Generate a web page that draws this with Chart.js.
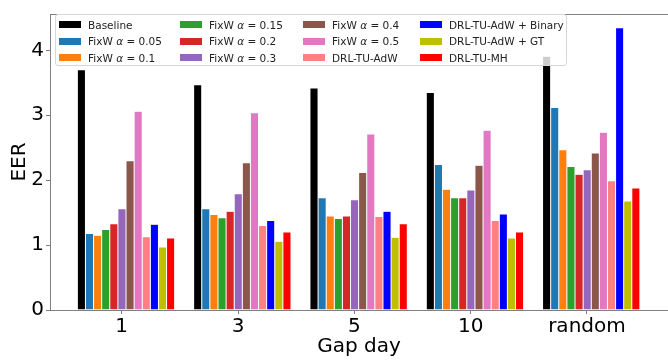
<!DOCTYPE html>
<html>
<head>
<meta charset="utf-8">
<script src="https://cdn.jsdelivr.net/npm/chart.js@4"></script>
<style>
  body { margin: 0; background: #fff; }
  #wrap { position: relative; width: 668px; height: 360px; }
  #legend {
    position: absolute; left: 55px; top: 14px; width: 512px; height: 52px;
    background: rgba(255,255,255,0.8); border: 1px solid #d6d6d6; border-radius: 3px;
    box-sizing: border-box; padding: 1px 0 0 3px;
    display: grid; grid-auto-flow: column;
    grid-template-rows: 17px 16.5px 16.5px;
    grid-template-columns: 121px 123px 117px auto;
    font-family: "DejaVu Sans", sans-serif; font-size: 10.5px; color: #222;
  }
  .item { display: flex; align-items: center; white-space: nowrap; }
  .sw { width: 22px; height: 7px; margin-right: 7px; flex: none; }
</style>
</head>
<body>
<div id="wrap">
  <canvas id="c" width="668" height="360"></canvas>
  <div id="legend"></div>
</div>
<script>
// categories on the x axis
const categories = ['1', '3', '5', '10', 'random'];

// EER per method, one value per gap-day category
const baseline = [3.70, 3.47, 3.42, 3.35, 3.91];
const fixw005 = [1.18, 1.56, 1.73, 2.24, 3.12];
const fixw01 = [1.15, 1.47, 1.45, 1.86, 2.47];
const fixw015 = [1.24, 1.42, 1.41, 1.73, 2.21];
const fixw02 = [1.33, 1.52, 1.45, 1.73, 2.09];
const fixw03 = [1.56, 1.79, 1.70, 1.85, 2.16];
const fixw04 = [2.30, 2.27, 2.12, 2.23, 2.42];
const fixw05 = [3.06, 3.04, 2.71, 2.77, 2.74];
const drlAdw = [1.13, 1.30, 1.44, 1.38, 1.99];
const drlAdwBinary = [1.32, 1.38, 1.52, 1.48, 4.35];
const drlAdwGt = [0.97, 1.06, 1.12, 1.11, 1.68];
const drlMh = [1.11, 1.20, 1.33, 1.20, 1.88];

const yTicks = [0, 1, 2, 3, 4];

const series = [
  { label: 'Baseline', html: 'Baseline', data: baseline, color: '#000000' },
  { label: 'FixW α = 0.05', html: 'FixW <i>α</i> = 0.05', data: fixw005, color: '#1f77b4' },
  { label: 'FixW α = 0.1', html: 'FixW <i>α</i> = 0.1', data: fixw01, color: '#ff7f0e' },
  { label: 'FixW α = 0.15', html: 'FixW <i>α</i> = 0.15', data: fixw015, color: '#2ca02c' },
  { label: 'FixW α = 0.2', html: 'FixW <i>α</i> = 0.2', data: fixw02, color: '#d62728' },
  { label: 'FixW α = 0.3', html: 'FixW <i>α</i> = 0.3', data: fixw03, color: '#9467bd' },
  { label: 'FixW α = 0.4', html: 'FixW <i>α</i> = 0.4', data: fixw04, color: '#8c564b' },
  { label: 'FixW α = 0.5', html: 'FixW <i>α</i> = 0.5', data: fixw05, color: '#e377c2' },
  { label: 'DRL-TU-AdW', html: 'DRL-TU-AdW', data: drlAdw, color: '#ff8080' },
  { label: 'DRL-TU-AdW + Binary', html: 'DRL-TU-AdW + Binary', data: drlAdwBinary, color: '#0000ff' },
  { label: 'DRL-TU-AdW + GT', html: 'DRL-TU-AdW + GT', data: drlAdwGt, color: '#bfbf00' },
  { label: 'DRL-TU-MH', html: 'DRL-TU-MH', data: drlMh, color: '#ff0000' }
];

// legend, filled column by column like the original
const legendEl = document.getElementById('legend');
series.forEach(s => {
  const d = document.createElement('div');
  d.className = 'item';
  d.innerHTML = `<span class="sw" style="background:${s.color}"></span><span>${s.html}</span>`;
  legendEl.appendChild(d);
});

const axisGrey = '#808080';
const font = { family: '"DejaVu Sans", sans-serif', size: 20 };

// top spine
const topLine = {
  id: 'topLine',
  afterDraw(chart) {
    const { ctx, chartArea: a } = chart;
    ctx.save();
    ctx.strokeStyle = axisGrey;
    ctx.lineWidth = 1;
    ctx.beginPath();
    ctx.moveTo(a.left, a.top + 0.5);
    ctx.lineTo(a.right, a.top + 0.5);
    ctx.stroke();
    ctx.restore();
  }
};

new Chart(document.getElementById('c'), {
  type: 'bar',
  data: {
    datasets: series.map(s => ({
      label: s.label,
      data: s.data.map((v, i) => ({ x: i, y: v })),
      backgroundColor: s.color,
      borderColor: 'rgba(255,255,255,0.6)',
      borderWidth: 0.5,
      categoryPercentage: 0.837,
      barPercentage: 1
    }))
  },
  options: {
    responsive: false,
    animation: false,
    layout: { padding: { top: 9, right: 0, left: 0, bottom: 0 } },
    plugins: { legend: { display: false }, tooltip: { enabled: false } },
    scales: {
      x: {
        type: 'linear',
        offset: false,
        min: -0.6535,
        max: 4.66,
        afterFit: s => { s.height = 50; },
        afterBuildTicks: s => { s.ticks = categories.map((c, i) => ({ value: i - 0.037 })); },
        grid: { offset: false, drawOnChartArea: false, drawTicks: true, tickLength: 4, color: axisGrey },
        border: { display: true, color: axisGrey },
        ticks: {
          font, color: '#000', padding: 1, maxRotation: 0, autoSkip: false,
          callback: v => categories[Math.round(v)]
        },
        title: { display: true, text: 'Gap day', font, color: '#000', padding: { top: 0, bottom: 1 } }
      },
      y: {
        min: 0,
        max: 4.56,
        afterFit: s => { s.width = 50; },
        afterBuildTicks: s => { s.ticks = yTicks.map(v => ({ value: v })); },
        grid: { drawOnChartArea: false, drawTicks: true, tickLength: 4, color: axisGrey },
        border: { display: true, color: axisGrey },
        ticks: { font, color: '#000', padding: 2 },
        title: { display: true, text: 'EER', font, color: '#000', padding: { top: 8, bottom: 0 } }
      }
    }
  },
  plugins: [topLine]
});
</script>
</body>
</html>
